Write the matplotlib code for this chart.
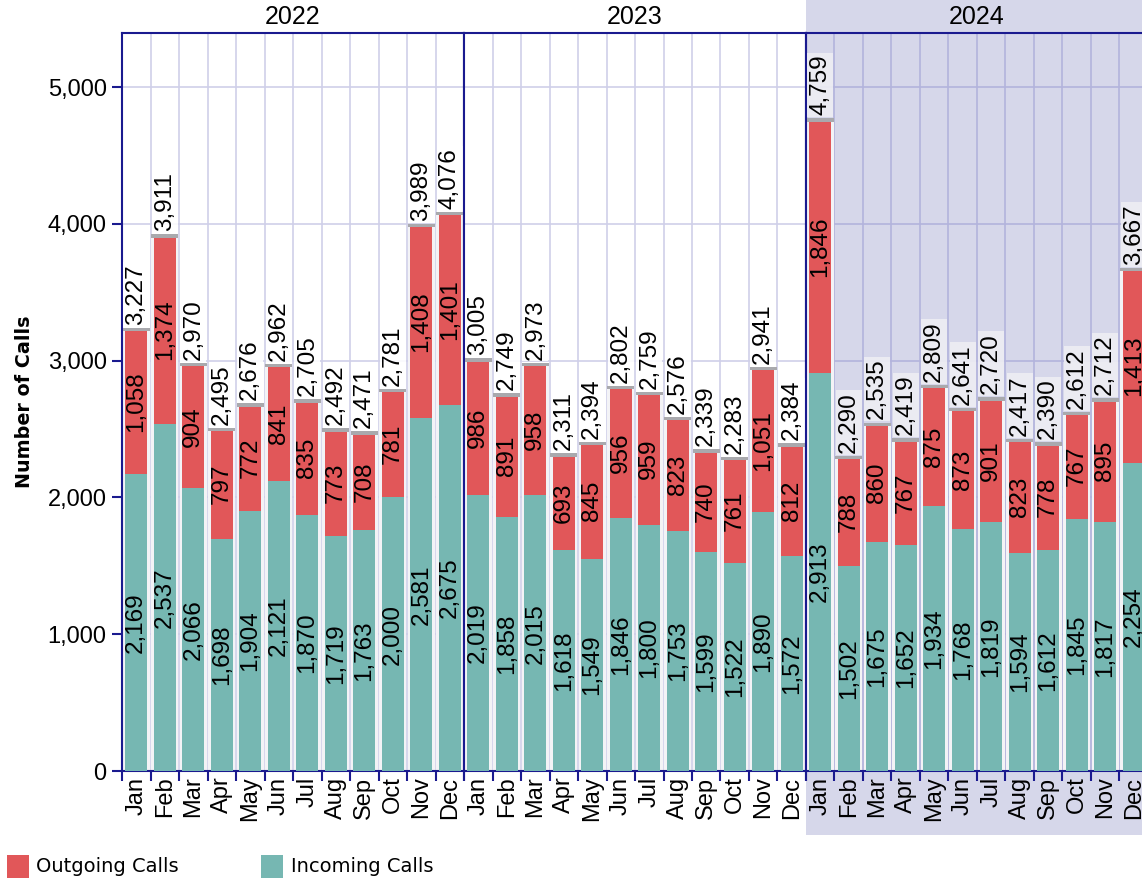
import matplotlib
matplotlib.use("Agg")
import matplotlib.pyplot as plt
from matplotlib.patches import Rectangle

years = ["2022", "2023", "2024"]
months = ["Jan", "Feb", "Mar", "Apr", "May", "Jun", "Jul", "Aug", "Sep", "Oct", "Nov", "Dec"]

incoming_2022 = [2169, 2537, 2066, 1698, 1904, 2121, 1870, 1719, 1763, 2000, 2581, 2675]
outgoing_2022 = [1058, 1374, 904, 797, 772, 841, 835, 773, 708, 781, 1408, 1401]
incoming_2023 = [2019, 1858, 2015, 1618, 1549, 1846, 1800, 1753, 1599, 1522, 1890, 1572]
outgoing_2023 = [986, 891, 958, 693, 845, 956, 959, 823, 740, 761, 1051, 812]
incoming_2024 = [2913, 1502, 1675, 1652, 1934, 1768, 1819, 1594, 1612, 1845, 1817, 2254]
outgoing_2024 = [1846, 788, 860, 767, 875, 873, 901, 823, 778, 767, 895, 1413]

incoming = [incoming_2022, incoming_2023, incoming_2024]
outgoing = [outgoing_2022, outgoing_2023, outgoing_2024]

RED = "#e15759"
TEAL = "#76b7b2"
NAVY = "#1a1a8f"
SHADE = "#d6d7ea"
FONT = "Liberation Sans"
LBL = 17.5
TCK = 17

W, H = 1142, 884
fig = plt.figure(figsize=(W / 100, H / 100), dpi=100)

# 2024 shading behind third panel
fig.patches.append(Rectangle((806 / W, 49 / H), (W - 806) / W, 1 - 49 / H,
                             transform=fig.transFigure, facecolor=SHADE,
                             edgecolor="none", zorder=-5))

bottom = (H - 771) / H
height = 738 / H
pw = 342 / W
x0 = 122 / W

for i, yr in enumerate(years):
    ax = fig.add_axes([x0 + i * pw, bottom, pw, height])
    ax.set_facecolor("white")
    if i == 2:
        ax.patch.set_alpha(0)
    x = list(range(12))
    inc = incoming[i]
    out = outgoing[i]
    tot = [a + b for a, b in zip(inc, out)]
    # background / shadow bars
    ax.bar(x, tot, width=0.94, color="#f3f3f6", edgecolor="none", zorder=2)
    ax.bar(x, [24] * 12, bottom=[t - 12 for t in tot], width=0.94,
           color="#a9a9ad", edgecolor="none", zorder=4)
    ax.bar(x, inc, width=0.76, color=TEAL, edgecolor="none", zorder=3)
    ax.bar(x, out, bottom=inc, width=0.76, color=RED, edgecolor="none", zorder=3)
    for xi, a, b, t in zip(x, inc, out, tot):
        ax.text(xi, a / 2, f"{a:,}", rotation=90, ha="center", va="center",
                fontsize=LBL, family=FONT, zorder=5)
        ax.text(xi, a + b / 2, f"{b:,}", rotation=90, ha="center", va="center",
                fontsize=LBL, family=FONT, zorder=5)
        ax.text(xi, t + 35, f"{t:,}", rotation=90, ha="center", va="bottom",
                fontsize=LBL, family=FONT, zorder=5,
                bbox=dict(boxstyle="square,pad=0.08",
                          facecolor="white" if i < 2 else "#eeeef4",
                          edgecolor="none", alpha=0.9))
    ax.set_xlim(-0.5, 11.5)
    ax.set_ylim(0, 5395)
    gcol = "#cfcfe9" if i < 2 else "#b3b3dc"
    for b in [k + 0.5 for k in range(11)]:
        ax.axvline(b, color=gcol, lw=1.2, zorder=1)
    for yv in [1000, 2000, 3000, 4000, 5000]:
        ax.axhline(yv, color=gcol, lw=1.2, zorder=1)
    ax.set_xticks(x)
    ax.set_xticklabels(months, rotation=90, fontsize=TCK, family=FONT)
    ax.tick_params(axis="x", which="major", length=0, pad=4)
    ax.set_xticks([k - 0.5 for k in range(13)], minor=True)
    ax.tick_params(axis="x", which="minor", length=7, width=1.5, color=NAVY)
    for s in ax.spines.values():
        s.set_color(NAVY)
        s.set_linewidth(1.5)
    if i == 0:
        ax.set_yticks([0, 1000, 2000, 3000, 4000, 5000])
        ax.set_yticklabels(["0", "1,000", "2,000", "3,000", "4,000", "5,000"],
                           fontsize=TCK, family=FONT)
        ax.tick_params(axis="y", length=7, width=1.5, color=NAVY, pad=4)
        ax.set_ylabel("Number of Calls", fontsize=13.8, fontweight="bold",
                      family="DejaVu Sans", labelpad=10)
    else:
        ax.set_yticks([])
    fig.text(x0 + i * pw + pw / 2, 1 - 17 / H, yr, ha="center", va="center",
             fontsize=18, family=FONT)

# legend
fig.patches.append(Rectangle((7 / W, 1 - 878 / H), 22 / W, 23 / H,
                             transform=fig.transFigure, facecolor=RED, edgecolor="none"))
fig.text(36 / W, 1 - 867 / H, "Outgoing Calls", ha="left", va="center",
         fontsize=14, family="DejaVu Sans")
fig.patches.append(Rectangle((261 / W, 1 - 878 / H), 22 / W, 23 / H,
                             transform=fig.transFigure, facecolor=TEAL, edgecolor="none"))
fig.text(291 / W, 1 - 867 / H, "Incoming Calls", ha="left", va="center",
         fontsize=14, family="DejaVu Sans")

fig.savefig("out.png", dpi=100)
